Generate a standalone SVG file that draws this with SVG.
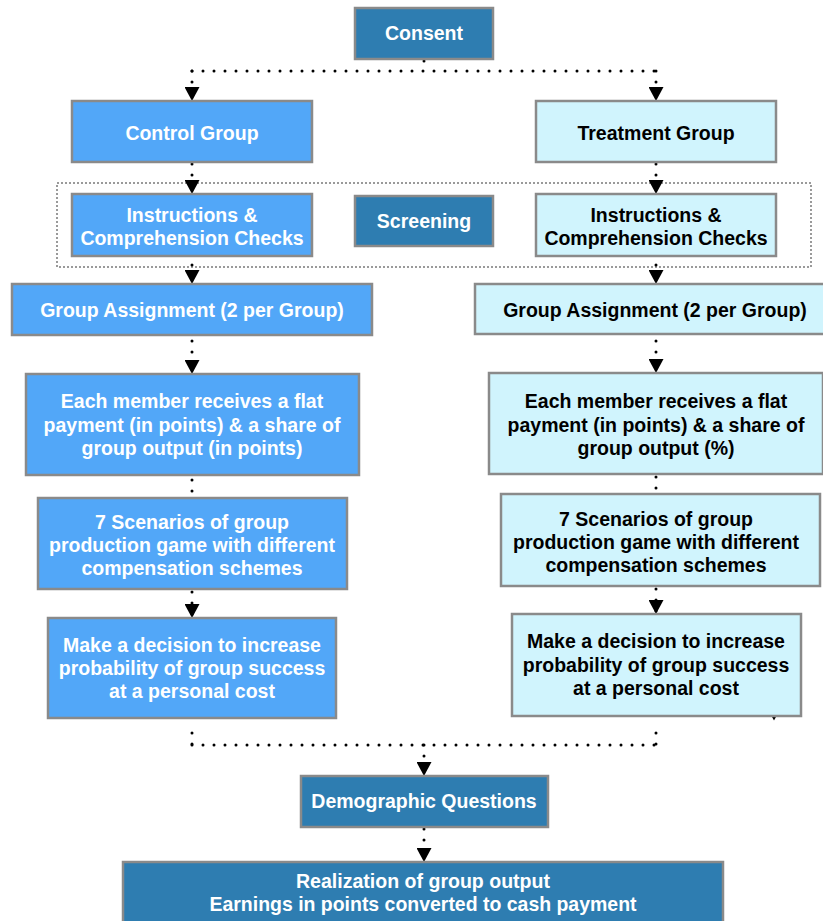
<svg xmlns="http://www.w3.org/2000/svg" width="823" height="921" viewBox="0 0 823 921">
<style>
.box{stroke:#8a8a8a;stroke-width:2.5}
.dark{fill:#2e7db1}
.blue{fill:#52a7f8}
.cyan{fill:#d0f4fd}
text{font-family:"Liberation Sans",Arial,sans-serif;font-weight:bold;font-size:19.5px;text-anchor:middle}
.w{fill:#ffffff}
.k{fill:#000000}
.con{fill:none;stroke:#000;stroke-width:3;stroke-linecap:round;stroke-dasharray:0 11}
</style>
<defs>
<marker id="arr" markerUnits="userSpaceOnUse" markerWidth="14" markerHeight="15" viewBox="0 0 14 15" refX="14" refY="7.5" orient="auto">
<path d="M0,0 L14,7.5 L0,15 Z" fill="#000"/>
</marker>
</defs>
<rect x="57" y="183" width="754" height="84" fill="none" stroke="#9a9a9a" stroke-width="2" stroke-dasharray="2 2"/>
<g id="connectors">
<path class="con" d="M424,61 V71"/>
<path class="con" d="M192,71 H656"/>
<path class="con" d="M192,71 V101" marker-end="url(#arr)"/>
<path class="con" d="M656,71 V101" marker-end="url(#arr)"/>
<path class="con" d="M192,164 V194" marker-end="url(#arr)"/>
<path class="con" d="M656,164 V194" marker-end="url(#arr)"/>
<path class="con" d="M192,254 V284" marker-end="url(#arr)"/>
<path class="con" d="M656,254 V284" marker-end="url(#arr)"/>
<path class="con" d="M192,341 V374" marker-end="url(#arr)"/>
<path class="con" d="M656,341 V373" marker-end="url(#arr)"/>
<path class="con" d="M192,480 V492"/>
<path class="con" d="M656,477 V489"/>
<path class="con" d="M192,592 V618" marker-end="url(#arr)"/>
<path class="con" d="M656,589 V614" marker-end="url(#arr)"/>
<path class="con" d="M192,733 V745"/>
<path class="con" d="M656,733 V745"/>
<path class="con" d="M192,745 H656"/>
<path class="con" d="M424,745 V776" marker-end="url(#arr)"/>
<path class="con" d="M424,829 V862" marker-end="url(#arr)"/>
<polygon points="771.5,716 776.5,716 774,720.5" fill="#000"/>
</g>
<g id="consent"><rect class="box dark" x="355" y="8" width="138" height="51"/><text class="w" x="424" y="40">Consent</text></g>
<g id="control"><rect class="box blue" x="72" y="101" width="240" height="61"/><text class="w" x="192" y="140">Control Group</text></g>
<g id="treatment"><rect class="box cyan" x="536" y="101" width="240" height="61"/><text class="k" x="656" y="140">Treatment Group</text></g>
<g id="instr-left"><rect class="box blue" x="72" y="194" width="240" height="62"/><text class="w" x="192" y="222">Instructions &amp;</text><text class="w" x="192" y="245">Comprehension Checks</text></g>
<g id="screening"><rect class="box dark" x="355" y="196" width="138" height="50"/><text class="w" x="424" y="228">Screening</text></g>
<g id="instr-right"><rect class="box cyan" x="536" y="194" width="240" height="62"/><text class="k" x="656" y="222">Instructions &amp;</text><text class="k" x="656" y="245">Comprehension Checks</text></g>
<g id="assign-left"><rect class="box blue" x="12" y="284" width="360" height="51"/><text class="w" x="192" y="317">Group Assignment (2 per Group)</text></g>
<g id="assign-right"><rect class="box cyan" x="475" y="284" width="362" height="50"/><text class="k" x="655" y="317">Group Assignment (2 per Group)</text></g>
<g id="pay-left"><rect class="box blue" x="26" y="374" width="333" height="101"/><text class="w" x="192" y="408">Each member receives a flat</text><text class="w" x="192" y="431.5">payment (in points) &amp; a share of</text><text class="w" x="192" y="455">group output (in points)</text></g>
<g id="pay-right"><rect class="box cyan" x="489" y="373" width="334" height="101"/><text class="k" x="656" y="408">Each member receives a flat</text><text class="k" x="656" y="431.5">payment (in points) &amp; a share of</text><text class="k" x="656" y="455">group output (%)</text></g>
<g id="scen-left"><rect class="box blue" x="38" y="498" width="309" height="91"/><text class="w" x="192" y="529">7 Scenarios of group</text><text class="w" x="192" y="552">production game with different</text><text class="w" x="192" y="575">compensation schemes</text></g>
<g id="scen-right"><rect class="box cyan" x="501" y="494" width="319" height="92"/><text class="k" x="656" y="526">7 Scenarios of group</text><text class="k" x="656" y="549">production game with different</text><text class="k" x="656" y="572">compensation schemes</text></g>
<g id="decide-left"><rect class="box blue" x="48" y="618" width="288" height="100"/><text class="w" x="192" y="652">Make a decision to increase</text><text class="w" x="192" y="675">probability of group success</text><text class="w" x="192" y="698">at a personal cost</text></g>
<g id="decide-right"><rect class="box cyan" x="512" y="614" width="289" height="102"/><text class="k" x="656" y="648">Make a decision to increase</text><text class="k" x="656" y="672">probability of group success</text><text class="k" x="656" y="695">at a personal cost</text></g>
<g id="demographic"><rect class="box dark" x="301" y="776" width="247" height="51"/><text class="w" x="424" y="808">Demographic Questions</text></g>
<g id="realization"><rect class="box dark" x="123" y="862" width="600" height="70"/><text class="w" x="423" y="888" textLength="254" lengthAdjust="spacingAndGlyphs" style="font-size:21px">Realization of group output</text><text class="w" x="423" y="911" textLength="427" lengthAdjust="spacingAndGlyphs" style="font-size:21px">Earnings in points converted to cash payment</text></g>
</svg>
